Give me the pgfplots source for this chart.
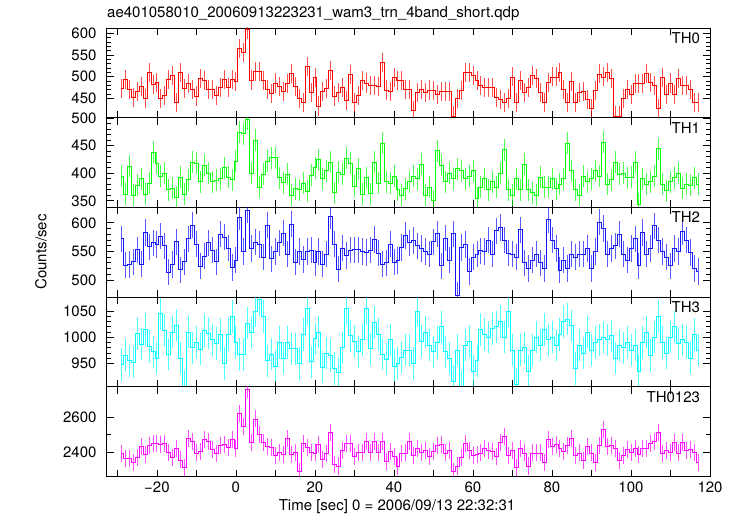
\documentclass[border=0pt]{standalone}
\usepackage{fontspec}
\setmainfont{TeX Gyre Heros}
\usepackage{pgfplots}
\pgfplotsset{compat=1.18}
\usepackage{pgfplotstable}

\definecolor{cRed}{RGB}{255,0,0}
\definecolor{cGreen}{RGB}{0,255,0}
\definecolor{cBlue}{RGB}{20,20,255}
\definecolor{cCyan}{RGB}{0,255,255}
\definecolor{cMag}{RGB}{255,0,255}

% TH0, bins -29 ... 117 (1 s)
\pgfplotstableread[row sep=\\]{y\\
472\\494\\470\\452\\465\\478\\450\\510\\482\\487\\450\\457\\493\\503\\440\\510\\472\\483\\470\\455\\495\\490\\470\\470\\457\\475\\493\\475\\493\\488\\565\\555\\608\\
492\\512\\512\\490\\470\\460\\485\\478\\465\\483\\508\\478\\450\\440\\523\\463\\497\\432\\465\\472\\513\\455\\463\\475\\445\\505\\441\\457\\490\\485\\480\\480\\478\\
533\\469\\466\\497\\491\\491\\470\\470\\422\\464\\471\\464\\469\\467\\458\\465\\465\\465\\409\\450\\467\\510\\509\\502\\491\\479\\475\\475\\475\\452\\448\\440\\450\\499\\440\\491\\464\\475\\502\\495\\
464\\440\\487\\499\\499\\510\\470\\440\\489\\440\\464\\466\\448\\427\\467\\506\\499\\510\\495\\409\\409\\450\\471\\458\\483\\483\\483\\508\\487\\479\\427\\497\\458\\485\\458\\495\\479\\479\\471\\440\\440\\
}\thzero

\pgfplotstableread[row sep=\\]{y\\
395\\362\\413\\360\\378\\390\\362\\382\\438\\418\\395\\400\\370\\373\\357\\393\\362\\388\\420\\418\\385\\415\\400\\385\\387\\390\\410\\393\\388\\422\\475\\472\\498\\400\\460\\375\\398\\422\\428\\428\\
392\\383\\398\\360\\372\\370\\382\\367\\397\\410\\425\\390\\405\\420\\365\\402\\398\\427\\418\\377\\408\\362\\392\\363\\420\\382\\
455\\385\\382\\395\\370\\360\\372\\385\\395\\390\\416\\360\\375\\350\\441\\415\\385\\400\\390\\408\\405\\390\\395\\405\\355\\375\\390\\370\\385\\375\\400\\443\\370\\360\\390\\370\\416\\370\\365\\360\\
393\\375\\375\\390\\372\\380\\390\\455\\405\\370\\360\\395\\385\\390\\405\\395\\456\\380\\388\\420\\398\\400\\392\\393\\420\\344\\390\\380\\385\\395\\445\\380\\368\\385\\392\\400\\373\\380\\378\\392\\380\\
}\thone

\pgfplotstableread[row sep=\\]{y\\
572\\526\\527\\532\\553\\528\\583\\558\\565\\562\\577\\560\\514\\527\\567\\518\\532\\572\\596\\563\\524\\542\\565\\552\\532\\580\\575\\556\\522\\535\\610\\550\\622\\555\\566\\562\\540\\596\\537\\550\\
565\\582\\545\\598\\531\\550\\536\\550\\552\\530\\550\\528\\545\\612\\563\\519\\556\\543\\552\\553\\553\\550\\548\\552\\571\\547\\
528\\530\\563\\531\\534\\557\\578\\565\\569\\560\\555\\550\\545\\567\\581\\525\\573\\535\\581\\473\\557\\562\\515\\540\\545\\551\\550\\570\\545\\586\\592\\570\\547\\545\\540\\588\\530\\520\\535\\545\\
530\\520\\606\\570\\555\\517\\535\\520\\545\\540\\545\\545\\555\\520\\550\\601\\590\\545\\555\\560\\580\\545\\535\\555\\572\\525\\583\\545\\555\\595\\570\\550\\540\\525\\555\\550\\585\\570\\548\\520\\515\\
}\thtwo

\pgfplotstableread[row sep=\\]{y\\
948\\965\\955\\952\\1007\\987\\1015\\982\\972\\960\\1045\\1013\\968\\1010\\1023\\960\\906\\1010\\980\\990\\977\\1013\\1008\\995\\988\\1005\\950\\1005\\1040\\990\\967\\967\\1027\\1010\\1050\\1072\\1040\\955\\968\\945\\
990\\960\\990\\978\\978\\950\\1005\\1055\\953\\997\\1010\\943\\970\\965\\940\\932\\980\\1055\\1003\\992\\972\\995\\1055\\978\\1028\\1005\\
968\\958\\995\\945\\950\\962\\975\\975\\950\\1050\\993\\1010\\985\\972\\990\\1020\\972\\960\\915\\975\\905\\985\\992\\935\\955\\1015\\1005\\1000\\1017\\1020\\1030\\1000\\1050\\975\\910\\975\\980\\935\\975\\1000\\
985\\1015\\995\\1000\\985\\1005\\1030\\1035\\1022\\940\\985\\970\\1010\\975\\990\\995\\1000\\995\\1003\\960\\985\\980\\990\\975\\985\\935\\990\\1010\\965\\1000\\1040\\990\\970\\1000\\1020\\988\\995\\990\\960\\1005\\975\\
}\ththree

\pgfplotstableread[row sep=\\]{y\\
2390\\2362\\2365\\2340\\2370\\2430\\2385\\2440\\2450\\2450\\2445\\2450\\2400\\2370\\2420\\2355\\2313\\2480\\2460\\2395\\2405\\2470\\2460\\2415\\2390\\2440\\2445\\2425\\2470\\2420\\2620\\2545\\2760\\2455\\2590\\2500\\2455\\2430\\2425\\2380\\
2400\\2385\\2480\\2385\\2400\\2290\\2450\\2425\\2400\\2395\\2445\\2360\\2390\\2510\\2330\\2320\\2410\\2450\\2450\\2375\\2400\\2400\\2460\\2400\\2460\\2400\\
2460\\2345\\2405\\2375\\2320\\2390\\2395\\2460\\2380\\2420\\2400\\2410\\2375\\2405\\2440\\2445\\2395\\2410\\2290\\2320\\2370\\2450\\2410\\2380\\2385\\2395\\2420\\2410\\2405\\2375\\2455\\2490\\2380\\2410\\2310\\2420\\2395\\2320\\2395\\2395\\
2395\\2340\\2470\\2430\\2445\\2420\\2405\\2440\\2480\\2380\\2395\\2350\\2430\\2395\\2340\\2440\\2530\\2430\\2440\\2420\\2350\\2380\\2415\\2400\\2420\\2385\\2420\\2420\\2450\\2460\\2510\\2390\\2410\\2400\\2455\\2395\\2455\\2410\\2415\\2400\\2340\\
}\thsum

\pgfplotsset{
  panel/.style={
    scale only axis, width=603.3pt, height=89.7pt,
    anchor=north west,
    xmin=-32.7, xmax=120,
    xtick={-30,-20,...,120},
    xticklabels={},
    tick align=inside,
    major tick length=7pt, minor tick length=4pt,
    axis line style={line width=0.9pt},
    every tick/.style={black, line width=0.7pt},
    /pgf/number format/assume math mode=true,
    /pgf/number format/1000 sep={},
    yticklabel style={xshift=-5pt},
    clip=true,
  },
  series/.style={#1, const plot mark mid, line width=0.8pt,
    error bars/y dir=both, error bars/error mark=none,
    error bars/error bar style={line width=0.8pt, #1, opacity=0.7}},
}

\begin{document}
\fontsize{15}{18}\selectfont
\begin{tikzpicture}
\useasboundingbox (0,0) rectangle (735pt,-516pt);

\node[anchor=west, inner sep=0pt] at (107pt,-14pt) {ae401058010\_20060913223231\_wam3\_trn\_4band\_short.qdp};
\node[rotate=90] at (41pt,-252pt) {Counts/sec};
\node at (397pt,-507pt) {Time [sec] 0 = 2006/09/13 22:32:31};

\begin{axis}[panel, at={(106.7pt,-28pt)}, ymin=405, ymax=612,
  ytick={450,500,550,600}, minor y tick num=4]
\addplot[series=cRed, error bars/y fixed=22]
  table[x expr=\coordindex-29, y=y] {\thzero};
\node[anchor=east] at (axis description cs:0.992,0.89) {TH0};
\end{axis}

\begin{axis}[panel, at={(106.7pt,-117.7pt)}, ymin=338, ymax=501,
  ytick={350,400,450,500}, minor y tick num=4]
\addplot[series=cGreen, error bars/y fixed=20]
  table[x expr=\coordindex-29, y=y] {\thone};
\node[anchor=east] at (axis description cs:0.992,0.89) {TH1};
\end{axis}

\begin{axis}[panel, at={(106.7pt,-207.4pt)}, ymin=470, ymax=627,
  ytick={500,550,600}, minor y tick num=4]
\addplot[series=cBlue, error bars/y fixed=23]
  table[x expr=\coordindex-29, y=y] {\thtwo};
\node[anchor=east] at (axis description cs:0.992,0.89) {TH2};
\end{axis}

\begin{axis}[panel, at={(106.7pt,-297.1pt)}, ymin=905, ymax=1077,
  ytick={950,1000,1050}, minor y tick num=4]
\addplot[series=cCyan, error bars/y fixed=31]
  table[x expr=\coordindex-29, y=y] {\ththree};
\node[anchor=east] at (axis description cs:0.992,0.89) {TH3};
\end{axis}

\begin{axis}[panel, at={(106.7pt,-386.8pt)}, ymin=2260, ymax=2774,
  ytick={2400,2600}, minor y tick num=1,
  xticklabels={,\textminus20,,0,,20,,40,,60,,80,,100,,120}]
\addplot[series=cMag, error bars/y fixed=49]
  table[x expr=\coordindex-29, y=y] {\thsum};
\node[anchor=east] at (axis description cs:0.992,0.89) {TH0123};
\end{axis}
\end{tikzpicture}
\end{document}
